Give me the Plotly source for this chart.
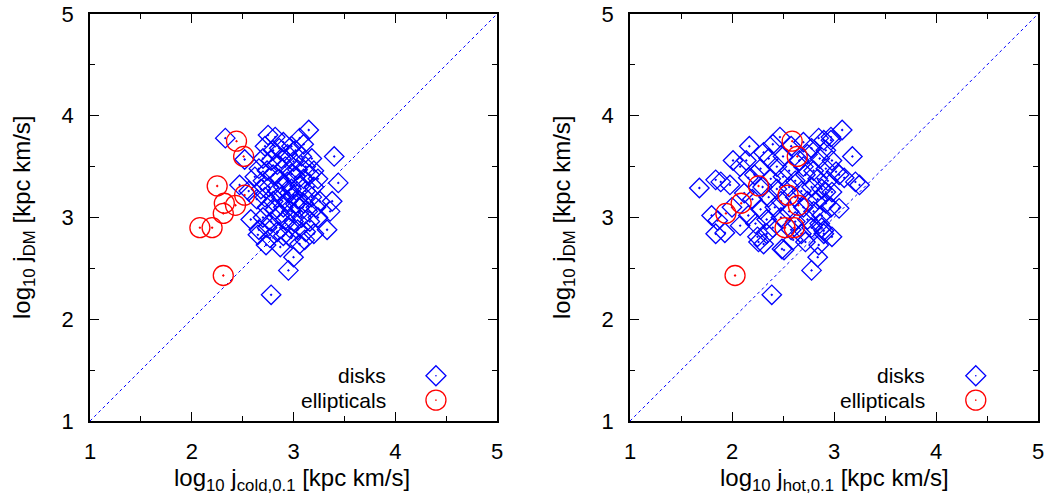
import plotly.graph_objects as go

# ---------------- data ----------------
# Left panel: disks, (log10 j_cold,0.1 , log10 j_DM)
disk_cold_x = [2.33, 2.75, 2.82, 3.06, 3.15, 2.90, 2.98,
               2.72, 2.80, 2.86, 3.02, 3.10, 2.94,
               2.52, 2.70, 2.78, 2.88, 3.00, 3.08, 3.18, 3.40, 2.84,
               2.66, 2.74, 2.92, 3.04, 3.12, 3.20, 2.80, 2.98,
               2.62, 2.70, 2.86, 2.94, 3.02, 3.10, 3.16, 3.24, 3.44, 2.47,
               2.68, 2.76, 2.84, 2.90, 2.98, 3.06, 3.12, 3.20, 2.56, 3.00,
               2.64, 2.72, 2.80, 2.88, 2.94, 3.04, 3.10, 3.18, 3.26, 3.38, 2.96,
               2.74, 2.82, 2.90, 2.98, 3.06, 3.14, 3.22, 3.36, 2.86, 3.02,
               2.58, 2.70, 2.78, 2.92, 3.00, 3.08, 3.16, 3.24, 2.96,
               2.66, 2.74, 2.84, 3.04, 3.12, 3.33, 2.90, 3.20,
               2.65, 2.77, 2.98, 3.11, 2.73, 2.87, 3.06,
               3.00, 2.95, 2.78]
disk_cold_y = [3.78, 3.81, 3.79, 3.78, 3.86, 3.74, 3.70,
               3.70, 3.66, 3.68, 3.66, 3.72, 3.62,
               3.57, 3.58, 3.56, 3.58, 3.55, 3.60, 3.58, 3.60, 3.52,
               3.48, 3.46, 3.50, 3.47, 3.50, 3.46, 3.42, 3.43,
               3.40, 3.36, 3.38, 3.35, 3.40, 3.38, 3.42, 3.38, 3.34, 3.32,
               3.28, 3.30, 3.26, 3.30, 3.28, 3.31, 3.26, 3.30, 3.26, 3.22,
               3.18, 3.20, 3.16, 3.20, 3.16, 3.18, 3.14, 3.20, 3.16, 3.16, 3.24,
               3.10, 3.08, 3.10, 3.06, 3.10, 3.06, 3.10, 3.06, 3.02, 3.13,
               2.98, 3.00, 2.96, 2.98, 2.96, 3.00, 2.96, 3.00, 2.90,
               2.88, 2.90, 2.86, 2.88, 2.86, 2.88, 2.82, 2.84,
               2.83, 2.80, 2.80, 2.78, 2.73, 2.71, 2.74,
               2.61, 2.48, 2.24]

# Right panel: disks, (log10 j_hot,0.1 , log10 j_DM)
disk_hot_x = [3.08, 2.47, 2.85, 2.97, 2.17, 3.18, 2.01, 2.14, 2.31, 1.68,
              1.84, 1.89, 1.98, 2.16, 3.10, 3.21, 3.25, 2.98, 3.05, 2.97,
              1.80, 1.86, 1.84, 1.93, 2.23, 2.25, 2.26, 2.31, 2.49, 2.84,
              2.78, 2.39, 2.90, 2.86, 2.90, 2.90, 2.97, 3.05, 2.92, 2.88,
              2.98, 2.85, 2.51,
              2.40, 2.58, 2.70, 2.78, 2.92,
              2.36, 2.50, 2.66, 2.74, 2.86, 2.98,
              2.28, 2.44, 2.56, 2.70, 2.80, 2.92, 3.02, 2.08,
              2.22, 2.38, 2.50, 2.62, 2.72, 2.84, 2.94,
              2.30, 2.44, 2.56, 2.68, 2.78, 2.88, 2.12,
              2.20, 2.36, 2.48, 2.62, 2.74, 2.84, 2.92,
              2.00, 2.28, 2.42, 2.56, 2.70, 2.80, 2.88, 2.16,
              2.34, 2.48, 2.62, 2.74, 2.08, 2.40, 2.58, 2.68, 2.78,
              2.34, 2.60, 2.72]
disk_hot_y = [3.86, 3.79, 3.78, 3.79, 3.70, 3.60, 3.56, 3.56, 3.64, 3.29,
              3.37, 3.35, 3.32, 3.39, 3.39, 3.35, 3.32, 3.25, 3.09, 3.10,
              3.02, 2.97, 2.84, 2.85, 2.94, 2.81, 2.76, 2.74, 2.69, 2.61,
              2.48, 2.24, 2.84, 2.94, 2.87, 3.76, 3.76, 3.42, 3.25, 2.90,
              2.81, 2.73, 2.68,
              3.72, 3.70, 3.74, 3.68, 3.66,
              3.58, 3.60, 3.56, 3.62, 3.58, 3.56,
              3.48, 3.50, 3.46, 3.50, 3.46, 3.48, 3.45, 3.50,
              3.42, 3.38, 3.40, 3.36, 3.42, 3.38, 3.36,
              3.30, 3.28, 3.30, 3.26, 3.30, 3.28, 3.24,
              3.18, 3.20, 3.16, 3.20, 3.16, 3.18, 3.14,
              3.10, 3.08, 3.10, 3.06, 3.10, 3.06, 3.02, 3.02,
              2.98, 3.00, 2.96, 2.98, 2.92, 2.90, 2.88, 2.84, 2.90,
              2.84, 2.78, 2.76]

# Ellipticals: shared log10 j_DM, two x quantities
ell_dm = [3.75, 3.60, 3.31, 3.22, 3.14, 3.12, 3.04, 2.90, 2.90, 2.43]
ell_cold = [2.44, 2.51, 2.25, 2.52, 2.32, 2.43, 2.31, 2.08, 2.20, 2.31]
ell_hot = [2.59, 2.64, 2.26, 2.55, 2.09, 2.65, 1.94, 2.52, 2.61, 2.03]

diag = [1, 5]
tick_vals = [1, 2, 3, 4, 5]
tick_text = ["1", "2", "3", "4", "5"]

BLUE = "#0000ff"
RED = "#ff0000"
FONT = "Liberation Sans, Arial, Helvetica, sans-serif"

fig = go.Figure()

for xa, ya, dx, dy, ex in [("x", "y", disk_cold_x, disk_cold_y, ell_cold),
                           ("x2", "y2", disk_hot_x, disk_hot_y, ell_hot)]:
    fig.add_trace(go.Scatter(x=diag, y=diag, mode="lines", xaxis=xa, yaxis=ya,
                             line=dict(color=BLUE, width=1, dash="dot"),
                             showlegend=False, hoverinfo="skip"))
    fig.add_trace(go.Scatter(x=dx, y=dy, mode="markers", xaxis=xa, yaxis=ya,
                             marker=dict(symbol="diamond-open-dot", size=15,
                                         color=BLUE, line=dict(color=BLUE, width=1.3)),
                             name="disks", showlegend=False))
    fig.add_trace(go.Scatter(x=ex, y=ell_dm, mode="markers", xaxis=xa, yaxis=ya,
                             marker=dict(symbol="circle-open-dot", size=20,
                                         color=RED, line=dict(color=RED, width=1.3)),
                             name="ellipticals", showlegend=False))

W, H = 1050, 501
def px_x(p):
    return p / W
def px_y(p):
    return 1 - p / H

axis_common = dict(
    range=[1, 5], tickmode="array", tickvals=tick_vals, ticktext=tick_text,
    ticks="inside", ticklen=9, tickwidth=1.3, tickcolor="black",
    mirror="allticks", showline=True, linecolor="black", linewidth=1.6,
    showgrid=False, zeroline=False, automargin=False,
    minor=dict(ticks="inside", ticklen=5, tickwidth=1.3, dtick=0.5, tick0=1,
               tickcolor="black", showgrid=False),
    tickfont=dict(family=FONT, size=22, color="black"),
)

fig.update_layout(
    width=W, height=H, margin=dict(l=0, r=0, t=0, b=0),
    paper_bgcolor="white", plot_bgcolor="white", showlegend=False,
    xaxis=dict(axis_common, domain=[px_x(90), px_x(497)], anchor="y",
               ticklabelstandoff=10),
    yaxis=dict(axis_common, domain=[px_y(421), px_y(14)], anchor="x",
               ticklabelstandoff=10),
    xaxis2=dict(axis_common, domain=[px_x(630), px_x(1038)], anchor="y2",
                ticklabelstandoff=10),
    yaxis2=dict(axis_common, domain=[px_y(421), px_y(14)], anchor="x2",
                ticklabelstandoff=10),
)

title_font = dict(family=FONT, size=24, color="black")
ann = [
    dict(text="log<sub>10</sub> j<sub>cold,0.1</sub> [kpc km/s]", x=px_x(292), y=px_y(479),
         xref="paper", yref="paper", showarrow=False, font=title_font, xanchor="center", yanchor="middle"),
    dict(text="log<sub>10</sub> j<sub>hot,0.1</sub> [kpc km/s]", x=px_x(834), y=px_y(479),
         xref="paper", yref="paper", showarrow=False, font=title_font, xanchor="center", yanchor="middle"),
    dict(text="log<sub>10</sub> j<sub>DM</sub> [kpc km/s]", x=px_x(23), y=px_y(217),
         xref="paper", yref="paper", showarrow=False, font=title_font, textangle=-90,
         xanchor="center", yanchor="middle"),
    dict(text="log<sub>10</sub> j<sub>DM</sub> [kpc km/s]", x=px_x(563), y=px_y(217),
         xref="paper", yref="paper", showarrow=False, font=title_font, textangle=-90,
         xanchor="center", yanchor="middle"),
]
legend_font = dict(family=FONT, size=21, color="black")
Y_DISK, Y_ELL = 1.445, 1.205
shapes = []
for xr, yr, tx, sx in [("x", "y", 3.93, 4.40), ("x2", "y2", 3.91, 4.39)]:
    ann.append(dict(text="disks", x=tx, y=Y_DISK, xref=xr, yref=yr, showarrow=False,
                    font=legend_font, xanchor="right", yanchor="middle"))
    ann.append(dict(text="ellipticals", x=tx, y=Y_ELL, xref=xr, yref=yr, showarrow=False,
                    font=legend_font, xanchor="right", yanchor="middle"))
    shapes.append(dict(type="path", xref=xr, yref=yr, xsizemode="pixel", ysizemode="pixel",
                       xanchor=sx, yanchor=Y_DISK, path="M 0,10 L 10,0 L 0,-10 L -10,0 Z",
                       line=dict(color=BLUE, width=1.3)))
    shapes.append(dict(type="circle", xref=xr, yref=yr, xsizemode="pixel", ysizemode="pixel",
                       xanchor=sx, yanchor=Y_DISK, x0=-0.8, x1=0.8, y0=-0.8, y1=0.8,
                       fillcolor=BLUE, line=dict(color=BLUE, width=0)))
    shapes.append(dict(type="circle", xref=xr, yref=yr, xsizemode="pixel", ysizemode="pixel",
                       xanchor=sx, yanchor=Y_ELL, x0=-10, x1=10, y0=-10, y1=10,
                       line=dict(color=RED, width=1.3)))
    shapes.append(dict(type="circle", xref=xr, yref=yr, xsizemode="pixel", ysizemode="pixel",
                       xanchor=sx, yanchor=Y_ELL, x0=-0.8, x1=0.8, y0=-0.8, y1=0.8,
                       fillcolor=RED, line=dict(color=RED, width=0)))
fig.update_layout(annotations=ann, shapes=shapes)

fig.write_html("out.html")
